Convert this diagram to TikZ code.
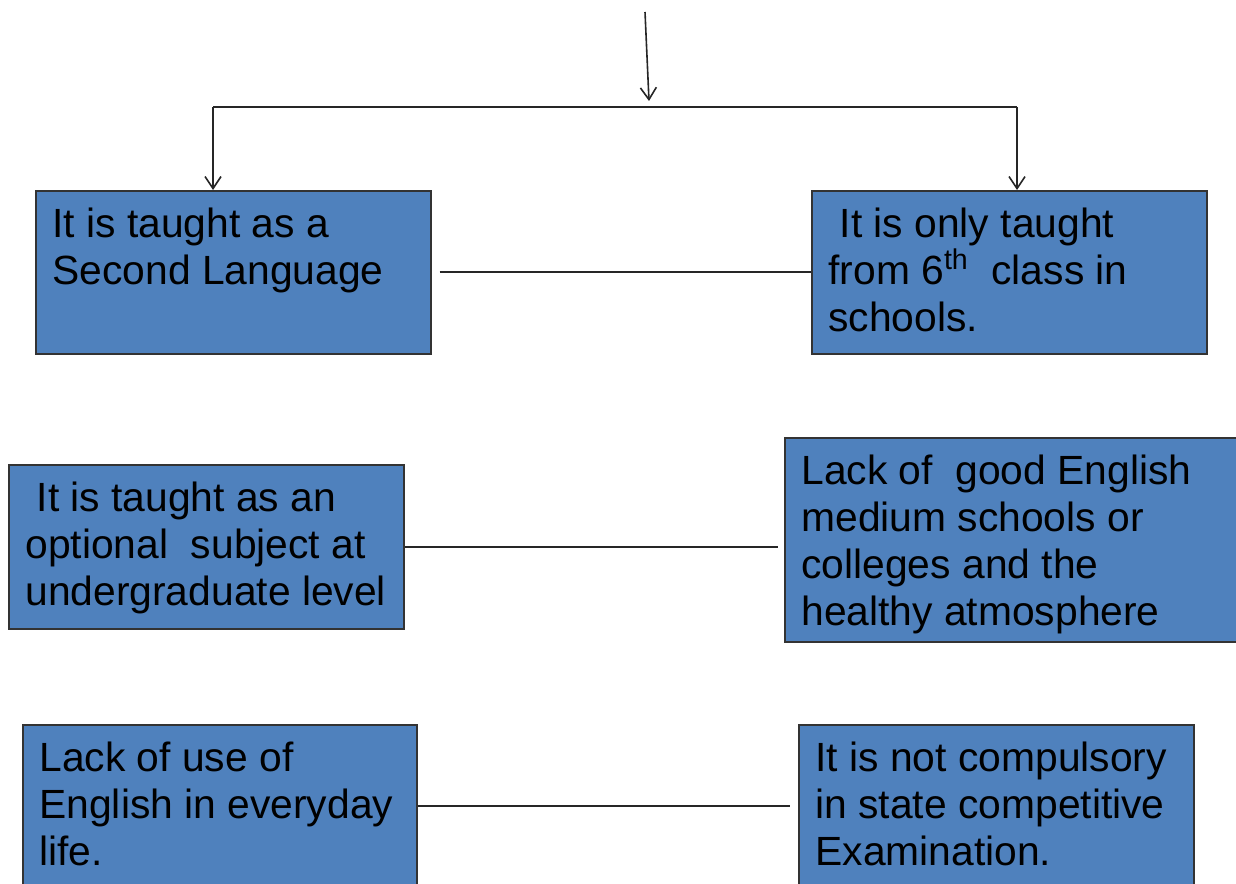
\documentclass[tikz,border=0pt]{standalone}
\usepackage{fontspec}
\setmainfont{Liberation Sans}
\usepackage{tikz}
\usetikzlibrary{arrows.meta,positioning}
\definecolor{boxblue}{HTML}{4F81BD}
\tikzset{
	cbox/.style={draw=black!80,line width=0.75pt,fill=boxblue,rectangle,inner sep=0pt},
	ctext/.style={inner xsep=8.5pt,inner ysep=8.75pt,align=left,
		font=\fontsize{20.4pt}{23.5pt}\selectfont},
	link/.style={line width=0.8pt,black!85},
	arr/.style={link,-{Straight Barb[length=6pt,width=8pt]}}
}
\begin{document}
\begin{tikzpicture}[x=0.5pt,y=-0.5pt]
	\useasboundingbox (0,0) rectangle (1236,883);
	\clip (0,0) rectangle (1236,883);
	\def\cb#1#2#3#4#5#6{
		\node[cbox,minimum width=#4,minimum height=#5,anchor=north west] (#1) at (#2,#3) {};
		\node[ctext,anchor=north west] (#1-t) at (#1.north west) {#6};
	}
	\cb{langtwo}{35}{190}{197.5pt}{81.5pt}{It is taught as a\\Second Language}
	\cb{sixth}{811}{190}{197.5pt}{81.5pt}{\ It is only taught\\from 6\textsuperscript{th}\ \ class in\\schools.}
	\cb{optional}{8}{464}{197.5pt}{82pt}{\ It is taught as an\\optional\ \ subject at\\undergraduate level}
	\cb{medium}{784}{437}{230pt}{102pt}{Lack of\ \ good English\\medium schools or\\colleges and the\\healthy atmosphere}
	\cb{everyday}{22}{724}{197pt}{81.5pt}{Lack of use of\\English in everyday\\life.}
	\cb{compuls}{798}{724}{197.5pt}{81.5pt}{It is not compulsory\\in state competitive\\Examination.}
	% top split
	\coordinate (in) at (645,12);
	\coordinate (intip) at (649,101);
	\coordinate (barl) at (213,107);
	\coordinate (barr) at (1017,107);
	\draw[arr] (in) -- (intip);
	\draw[link] (barl) -- (barr);
	\draw[arr] (barl) -- (barl |- langtwo.north);
	\draw[arr] (barr) -- (barr |- sixth.north);
	\draw[link,shorten <=4pt] (langtwo.east) -- (sixth.west);
	\draw[link,shorten >=3pt] (optional.east) -- (optional.east -| medium.west);
	\draw[link,shorten >=4pt] (everyday.east) -- (everyday.east -| compuls.west);
\end{tikzpicture}
\end{document}
